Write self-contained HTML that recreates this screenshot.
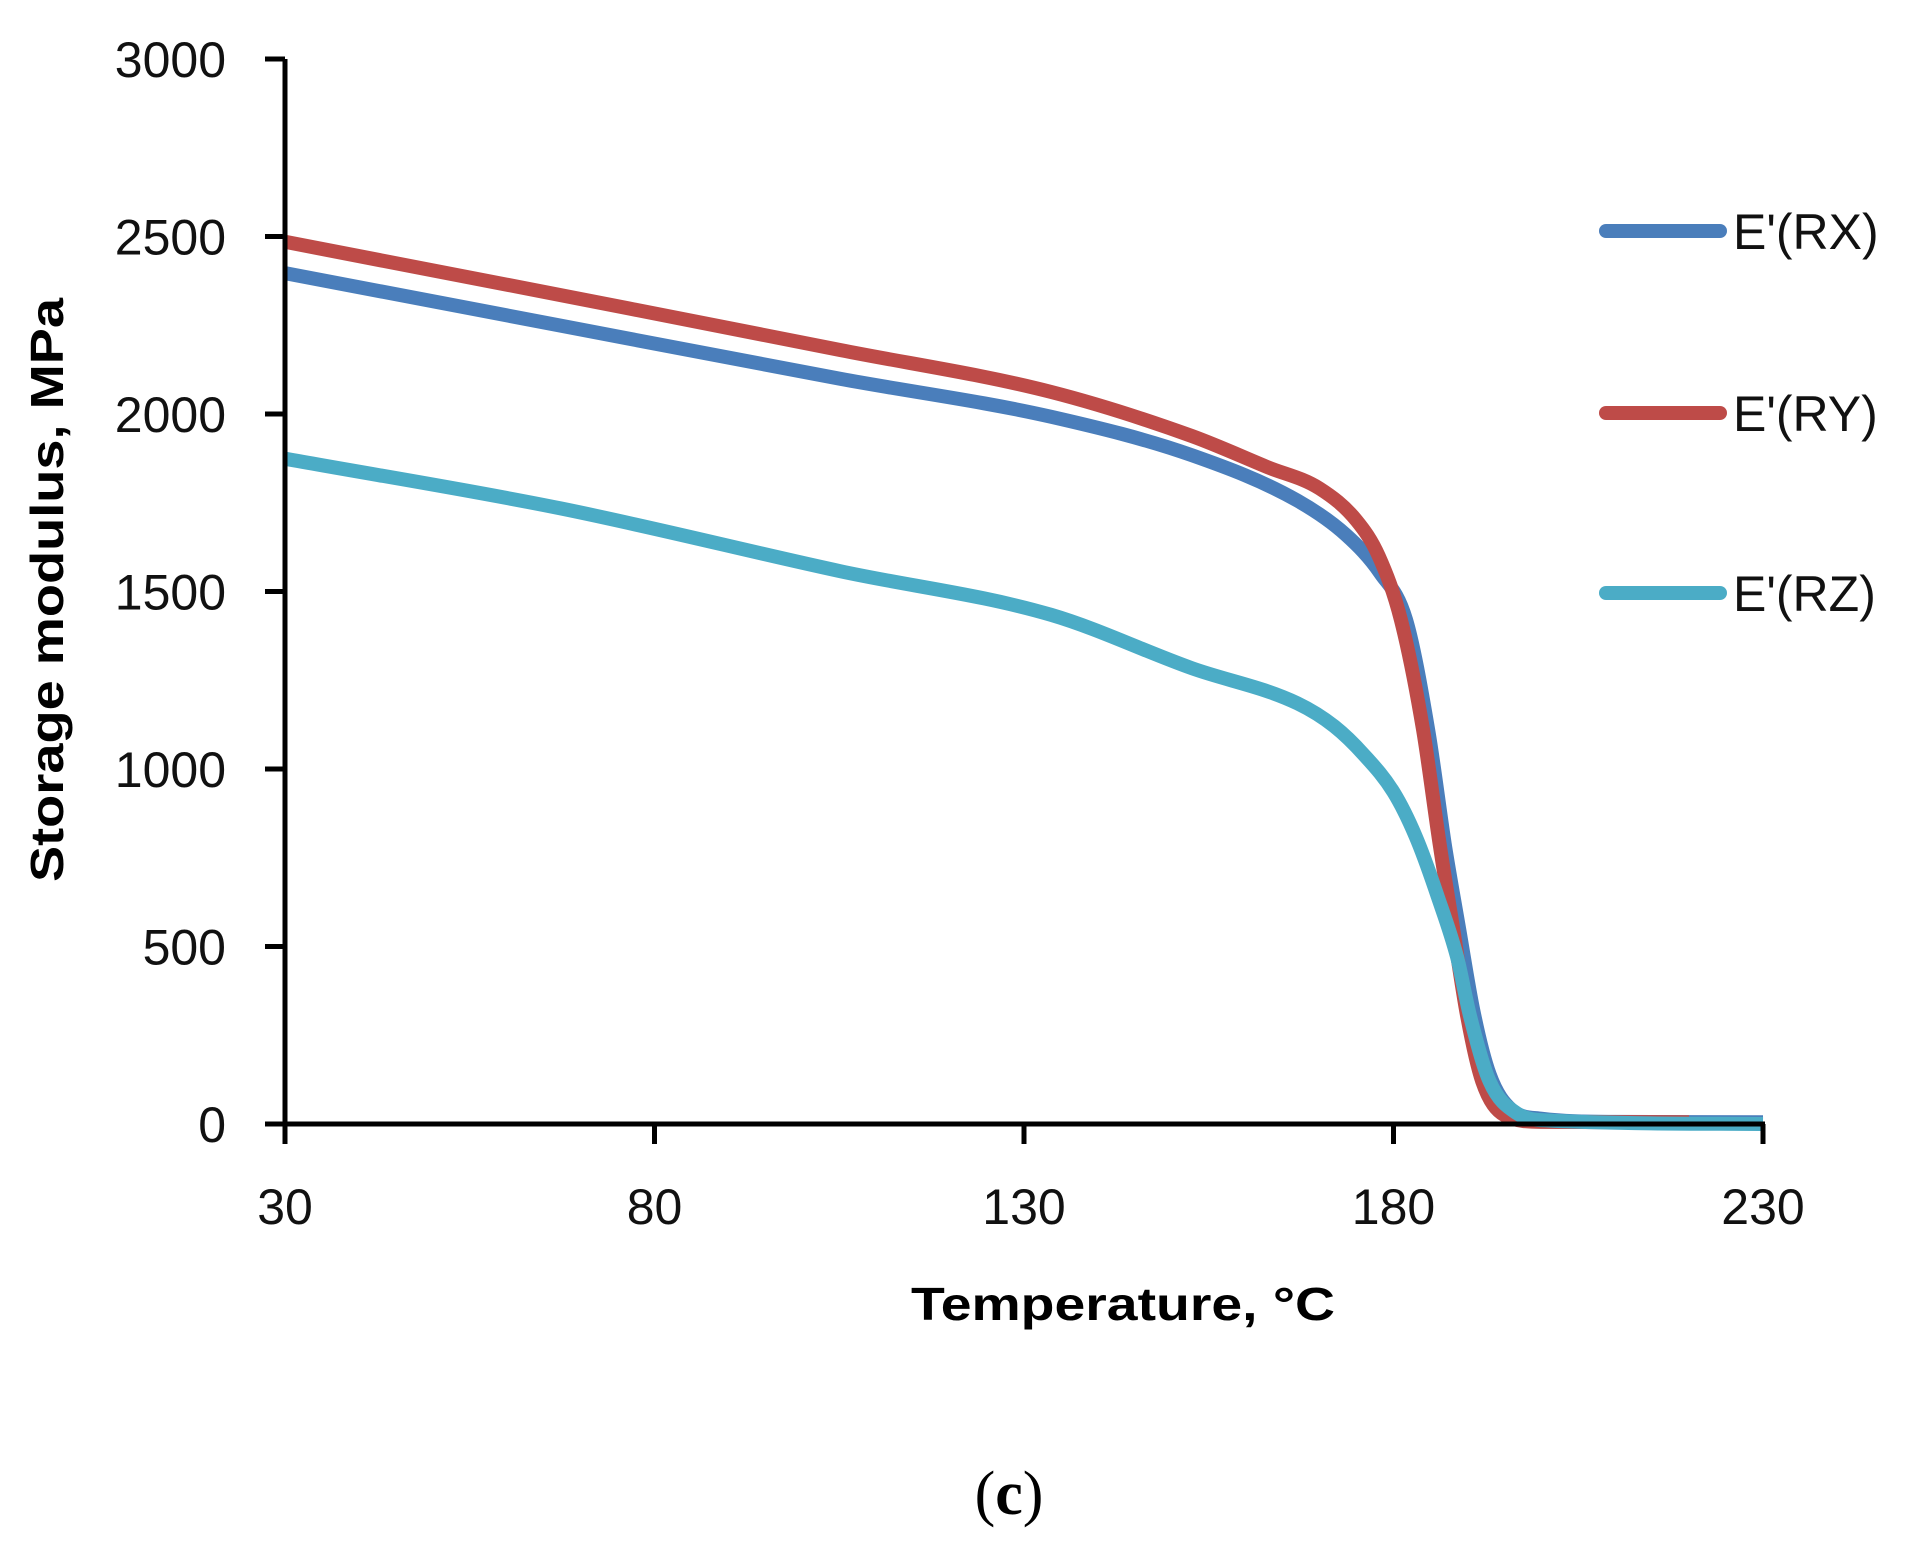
<!DOCTYPE html>
<html><head><meta charset="utf-8"><style>
html,body{margin:0;padding:0;background:#fff;}
svg{display:block;}
text{font-family:"Liberation Sans",sans-serif;}
</style></head><body>
<svg id="chart" width="1931" height="1560" viewBox="0 0 1931 1560" xmlns="http://www.w3.org/2000/svg">
<g id="plot"></g>
<g id="axes"></g>
<text x="1123" y="1320" font-size="46" font-weight="bold" text-anchor="middle" textLength="424" lengthAdjust="spacingAndGlyphs">Temperature, °C</text>
<text transform="translate(63,590) rotate(-90)" font-size="46" font-weight="bold" text-anchor="middle" textLength="584" lengthAdjust="spacingAndGlyphs">Storage modulus, MPa</text>
<text x="1009" y="1514" font-size="62" text-anchor="middle" style="font-family:'Liberation Serif',serif">(<tspan font-weight="bold">c</tspan>)</text>
<g id="legend"></g>
</svg>
<script>
const xTicks = [30, 80, 130, 180, 230];
const yTicks = [0, 500, 1000, 1500, 2000, 2500, 3000];
const seriesNames = ["E'(RX)", "E'(RY)", "E'(RZ)"];
const rxTemp = [30, 67.3, 105.2, 133.7, 152.7, 167, 173.6, 178.2, 181.7, 184.7, 187, 188.8, 190.8, 193, 196, 200, 210, 230];
const rxVal  = [2397, 2249, 2099, 1992, 1884, 1756, 1659, 1552, 1420, 1110, 780, 560, 320, 140, 40, 15, 6, 5];
const ryTemp = [30, 67.3, 105.2, 133.7, 152.7, 163, 170, 175, 178, 181, 184, 186.3, 188, 190, 192, 195, 200, 220];
const ryVal  = [2485, 2335, 2180, 2062, 1938, 1850, 1790, 1700, 1600, 1420, 1110, 780, 560, 300, 120, 25, 6, 5];
const rzTemp = [30, 67.3, 105.2, 133.7, 152.7, 167, 172, 176, 180, 183, 186, 188.6, 190.4, 193, 196.7, 201, 230];
const rzVal  = [1874, 1734, 1557, 1434, 1284, 1185, 1120, 1040, 935, 810, 640, 470, 300, 120, 30, 10, 0];

const X0 = 285, X1 = 1763, Y0 = 1124, Y1 = 59;
function xs(t){ return X0 + (t - 30) / 200 * (X1 - X0); }
function ys(v){ return Y0 - v / 3000 * (Y0 - Y1); }
const NS = "http://www.w3.org/2000/svg";
function mk(tag, attrs, parent){ const e = document.createElementNS(NS, tag); for (const k in attrs) e.setAttribute(k, attrs[k]); parent.appendChild(e); return e; }

function monoPath(tx, vy){
  const px = tx.map(xs), py = vy.map(ys), n = px.length;
  const d = [], m = new Array(n);
  for (let i = 0; i < n-1; i++) d.push((py[i+1]-py[i])/(px[i+1]-px[i]));
  m[0] = d[0]; m[n-1] = d[n-2];
  for (let i = 1; i < n-1; i++){ m[i] = (d[i-1]*d[i] <= 0) ? 0 : (d[i-1]+d[i])/2; }
  for (let i = 0; i < n-1; i++){
    if (d[i] === 0){ m[i]=0; m[i+1]=0; continue; }
    const a = m[i]/d[i], b = m[i+1]/d[i], s = a*a+b*b;
    if (s > 9){ const t = 3/Math.sqrt(s); m[i]=t*a*d[i]; m[i+1]=t*b*d[i]; }
  }
  let p = "M" + px[0].toFixed(1) + "," + py[0].toFixed(1);
  for (let i = 0; i < n-1; i++){
    const h = (px[i+1]-px[i])/3;
    p += " C" + (px[i]+h).toFixed(1) + "," + (py[i]+m[i]*h).toFixed(1) + " " + (px[i+1]-h).toFixed(1) + "," + (py[i+1]-m[i+1]*h).toFixed(1) + " " + px[i+1].toFixed(1) + "," + py[i+1].toFixed(1);
  }
  return p;
}

const plot = document.getElementById('plot');
const colors = ["#4a7ebb", "#be4b48", "#4bacc6"];
const data = [[rxTemp, rxVal], [ryTemp, ryVal], [rzTemp, rzVal]];
const lineNames = ['line-rx', 'line-ry', 'line-rz'];
data.forEach((s, i) => {
  const el = mk('path', {d: monoPath(s[0], s[1]), fill: 'none', stroke: colors[i], 'stroke-width': 14, 'stroke-linejoin': 'round'}, plot);
  
  
});

const axes = document.getElementById('axes');
const ya = mk('line', {x1: X0, y1: Y1, x2: X0, y2: Y0 + 2, stroke: '#000', 'stroke-width': 5}, axes);


const xa = mk('line', {x1: X0 - 2, y1: Y0, x2: X1 + 2, y2: Y0, stroke: '#000', 'stroke-width': 5}, axes);


yTicks.forEach(v => {
  const y = ys(v);
  const t = mk('line', {x1: X0 - 20, y1: y, x2: X0, y2: y, stroke: '#000', 'stroke-width': 5}, axes);
  
  
  const l = mk('text', {x: 226, y: y + 18, 'font-size': 50, 'text-anchor': 'end', fill: '#111'}, axes);
  l.textContent = String(v);
  
  
});
xTicks.forEach(v => {
  const x = xs(v);
  const t = mk('line', {x1: x, y1: Y0, x2: x, y2: Y0 + 20, stroke: '#000', 'stroke-width': 5}, axes);
  
  
  const l = mk('text', {x: x, y: 1224, 'font-size': 50, 'text-anchor': 'middle', fill: '#111'}, axes);
  l.textContent = String(v);
  
  
});

const legend = document.getElementById('legend');
const legY = [231, 413, 593];
seriesNames.forEach((name, i) => {
  const g = mk('g', {}, legend);
  
  
  mk('line', {x1: 1606, y1: legY[i], x2: 1720, y2: legY[i], stroke: colors[i], 'stroke-width': 14, 'stroke-linecap': 'round'}, g);
  const t = mk('text', {x: 1733, y: legY[i] + 18, 'font-size': 50, fill: '#111'}, g);
  t.textContent = name;
});
</script>
</body></html>
